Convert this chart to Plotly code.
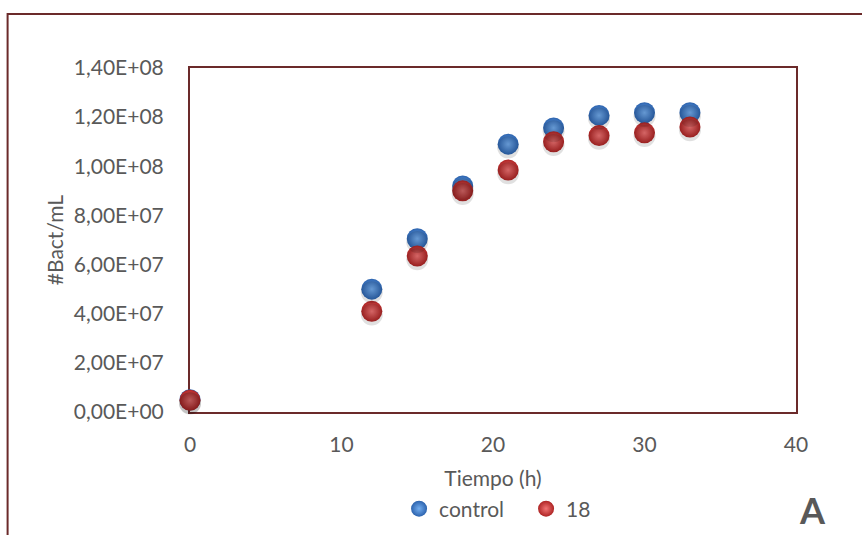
import plotly.graph_objects as go

tiempo = [0, 12, 15, 18, 21, 24, 27, 30, 33]
control = [5.0e6, 5.0e7, 7.05e7, 9.2e7, 1.09e8, 1.156e8, 1.207e8, 1.218e8, 1.218e8]
serie_18 = [4.8e6, 4.1e7, 6.35e7, 9.0e7, 9.85e7, 1.10e8, 1.125e8, 1.136e8, 1.16e8]
y_ticks = [0, 2e7, 4e7, 6e7, 8e7, 1e8, 1.2e8, 1.4e8]
y_tick_labels = ["0,00E+00", "2,00E+07", "4,00E+07", "6,00E+07", "8,00E+07",
                 "1,00E+08", "1,20E+08", "1,40E+08"]
x_ticks = [0, 10, 20, 30, 40]

FONT = "Lato, 'Open Sans', sans-serif"
TXT = "#595959"
BORDER = "#6B2A2A"

fig = go.Figure()

# soft shadows (same data, drawn on a slightly shifted overlay axis)
for ys in (control, serie_18):
    fig.add_trace(go.Scatter(
        x=tiempo, y=ys, mode="markers", yaxis="y2", showlegend=False,
        hoverinfo="skip", cliponaxis=False,
        marker=dict(size=22, color="rgba(0,0,0,0.12)", line=dict(width=0)),
    ))

fig.add_trace(go.Scatter(
    x=tiempo, y=control, mode="markers", name="control", cliponaxis=False,
    marker=dict(size=21, color="#2C63AE",
                gradient=dict(type="radial", color="#74AEF0"),
                line=dict(width=0)),
))
fig.add_trace(go.Scatter(
    x=tiempo, y=serie_18, mode="markers", name="18", cliponaxis=False,
    marker=dict(size=21, color="#AE2424",
                gradient=dict(type="radial", color="#F27474"),
                line=dict(width=0)),
))

fig.update_layout(
    width=862, height=535,
    margin=dict(l=190, r=66, t=68, b=123, autoexpand=False),
    paper_bgcolor="white", plot_bgcolor="white",
    font=dict(family=FONT, size=21, color=TXT),
    xaxis=dict(range=[0, 40], tickvals=x_ticks, showgrid=False, zeroline=False,
               showline=True, mirror=True, linecolor=BORDER, linewidth=2,
               ticks="", ticklabelstandoff=13, layer="below traces",
               title=dict(text="Tiempo (h)", standoff=16,
                          font=dict(size=21, color=TXT))),
    yaxis=dict(range=[0, 1.4e8], tickvals=y_ticks, ticktext=y_tick_labels,
               showgrid=False, zeroline=False,
               showline=True, mirror=True, linecolor=BORDER, linewidth=2,
               ticks="", ticklabelstandoff=20, layer="below traces",
               title=dict(text="#Bact/mL", standoff=4,
                          font=dict(size=21, color=TXT))),
    yaxis2=dict(overlaying="y", range=[0.013e8, 1.413e8], visible=False),
    legend=dict(orientation="h", x=0.345, y=-0.282, xanchor="left",
                yanchor="middle", font=dict(size=21, color=TXT),
                entrywidth=82, bgcolor="rgba(0,0,0,0)", itemsizing="trace"),
    shapes=[dict(type="rect", xref="paper", yref="paper",
                 x0=-0.301, x1=1.2, y0=-0.5, y1=1.157,
                 line=dict(color=BORDER, width=2), layer="below")],
    annotations=[dict(text="<b>A</b>", xref="paper", yref="paper",
                      x=1.027, y=-0.285, xanchor="center", yanchor="middle",
                      showarrow=False,
                      font=dict(size=36, color=TXT, family=FONT))],
)

fig.write_html("out.html")
